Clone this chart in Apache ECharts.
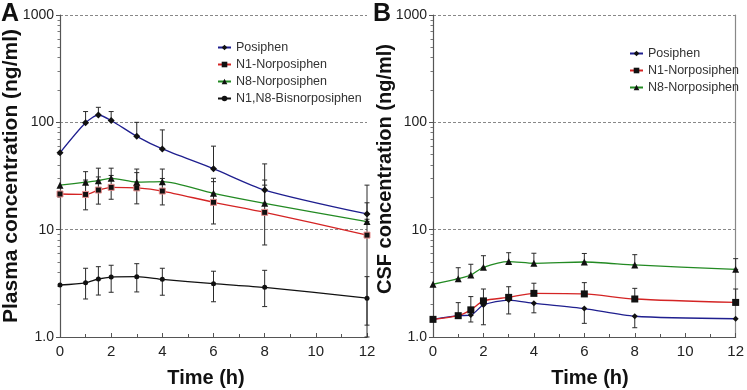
<!DOCTYPE html>
<html>
<head>
<meta charset="utf-8">
<script src="https://cdn.jsdelivr.net/npm/echarts@6/dist/echarts.min.js"></script>
<style>
  html, body { margin: 0; padding: 0; background: #fff; }
  #chart { width: 747px; height: 390px; }
</style>
</head>
<body>
<div id="chart"></div>
<script>
// sampling times (h)
const hours = [0, 1, 1.5, 2, 3, 4, 6, 8, 12];

// Panel A - plasma (ng/ml)
const plasmaPosiphen = [52, 99, 117, 104, 74, 56.5, 37, 23.4, 14];
const plasmaPosiphenHi = [null, 126, 138, 126, 100, 85, 60, 41, 26];
const plasmaN1 = [21.5, 21.3, 23.4, 24.8, 24.5, 22.9, 18, 14.5, 8.9];
const plasmaN1Lo = [null, 15.3, 17.3, 19.2, 17.4, 17, 11.3, 7.2, 1.0];
const plasmaN1Hi = [null, 29, 31, 32, 34, 30, 28, 29, 12.5];
const plasmaN8 = [26, 27.7, 28.6, 30.1, 27.7, 28, 21.8, 17.6, 11.9];
const plasmaN8Hi = [null, 34.7, 37.4, 37.4, 36.7, 36.7, 30.1, 26, 17.8];
const plasmaBis = [3.05, 3.2, 3.47, 3.62, 3.65, 3.45, 3.14, 2.9, 2.3];
const plasmaBisLo = [null, 2.26, 2.46, 2.61, 2.63, 2.45, 2.13, 1.92, 1.29];
const plasmaBisHi = [null, 4.37, 4.52, 4.66, 4.82, 4.37, 4.1, 4.18, 3.65];

// Panel B - CSF (ng/ml)
const csfPosiphen = [1.46, 1.58, 1.6, 1.99, 2.21, 2.06, 1.84, 1.56, 1.48];
const csfPosiphenLo = [null, null, 1.38, 1.3, 1.64, 1.68, 1.34, 1.22, null];
const csfN1 = [1.46, 1.58, 1.79, 2.17, 2.34, 2.55, 2.52, 2.26, 2.1];
const csfN1Hi = [null, 2.09, 2.38, 2.8, 2.94, 3.17, 3.21, 2.84, 2.8];
const csfN8 = [3.1, 3.49, 3.78, 4.46, 5.04, 4.86, 5.0, 4.69, 4.27];
const csfN8Hi = [null, 4.42, 4.76, 5.72, 6.1, 6.03, 6.0, 5.85, 5.37];

const yTickLabels = ['1.0', '10', '100', '1000'];
const majorTicks = [1, 10, 100, 1000];
const minorTicks = [2, 3, 4, 5, 6, 7, 8, 9, 20, 30, 40, 50, 60, 70, 80, 90, 200, 300, 400, 500, 600, 700, 800, 900];

const BLUE = '#1f1f8f';
const RED = '#d42424';
const GREEN = '#238a23';
const FONT = '"Liberation Sans", Arial, sans-serif';

const pairs = (vals) => hours.map((h, i) => [h, vals[i]]);
const errPairs = (vals, lo, hi) =>
  hours.map((h, i) => [h, lo && lo[i] != null ? lo[i] : vals[i], hi && hi[i] != null ? hi[i] : vals[i]]);

const chart = echarts.init(document.getElementById('chart'), null, { renderer: 'canvas' });

function errorSeries(gridIdx, data) {
  return {
    type: 'custom',
    xAxisIndex: gridIdx,
    yAxisIndex: gridIdx * 3,
    silent: true,
    z: 1,
    data: data,
    renderItem: function (params, api) {
      const x = api.value(0);
      const lo = api.value(1);
      const hi = api.value(2);
      if (lo === hi) return;
      const top = api.coord([x, hi]);
      const bot = api.coord([x, lo]);
      const w = 2.5;
      const st = { stroke: '#2a2a2a', lineWidth: 1 };
      return {
        type: 'group',
        children: [
          { type: 'line', shape: { x1: top[0], y1: top[1], x2: bot[0], y2: bot[1] }, style: st },
          { type: 'line', shape: { x1: top[0] - w, y1: top[1], x2: top[0] + w, y2: top[1] }, style: st },
          { type: 'line', shape: { x1: bot[0] - w, y1: bot[1], x2: bot[0] + w, y2: bot[1] }, style: st }
        ]
      };
    }
  };
}

function lineSeries(gridIdx, name, vals, color, symbol, size, border) {
  return {
    name: name,
    type: 'line',
    xAxisIndex: gridIdx,
    yAxisIndex: gridIdx * 3,
    data: pairs(vals),
    smooth: 0.25,
    symbol: symbol,
    symbolSize: size,
    z: 3,
    lineStyle: { color: color, width: 1.3 },
    itemStyle: border ? { color: '#111', borderColor: border, borderWidth: 1 } : { color: '#111' }
  };
}

function xAxisCfg(gridIdx) {
  return {
    gridIndex: gridIdx,
    type: 'value',
    min: 0,
    max: 12,
    interval: 2,
    axisLine: { onZero: false, lineStyle: { color: '#555', width: 1.2 } },
    axisTick: { inside: true, length: 4, lineStyle: { color: '#555' } },
    minorTick: { show: true, splitNumber: 2, length: 3, lineStyle: { color: '#555' } },
    axisLabel: { color: '#222', fontSize: 15, fontFamily: FONT, margin: 7 },
    splitLine: { show: false }
  };
}

function yAxesCfg(gridIdx, rightFrame) {
  const base = { gridIndex: gridIdx, type: 'log', logBase: 10, min: 1, max: 1000 };
  return [
    Object.assign({}, base, {
      position: 'left',
      axisLine: { show: true, lineStyle: { color: '#555', width: 1.2 } },
      axisTick: { show: true, length: 4, customValues: majorTicks, lineStyle: { color: '#555' } },
      axisLabel: {
        color: '#222', fontSize: 14, fontFamily: FONT, margin: 6,
        customValues: majorTicks,
        formatter: (v) => yTickLabels[majorTicks.indexOf(Math.round(v))]
      },
      splitLine: { show: true, lineStyle: { color: '#888', type: [3, 2], width: 1 } }
    }),
    Object.assign({}, base, {
      position: 'left',
      axisLine: { show: false },
      axisTick: { show: true, length: 2.5, customValues: minorTicks, lineStyle: { color: '#777' } },
      axisLabel: { show: false },
      splitLine: { show: false }
    }),
    Object.assign({}, base, {
      position: 'right',
      show: rightFrame,
      axisLine: { show: true, lineStyle: { color: '#888', width: 1.2 } },
      axisTick: { show: false },
      axisLabel: { show: false },
      splitLine: { show: false }
    })
  ];
}

const legendText = { color: '#333', fontSize: 12.5, fontFamily: FONT, lineHeight: 13 };
const legendItem = (name) => ({ name: name, itemStyle: { borderWidth: 0 } });

const option = {
  animation: false,
  backgroundColor: '#fff',
  grid: [
    { left: 60, top: 15, width: 307, height: 322 },
    { left: 433, top: 15, width: 305, height: 322 }
  ],
  xAxis: [xAxisCfg(0), xAxisCfg(1)],
  yAxis: [...yAxesCfg(0, false), ...yAxesCfg(1, true)],
  legend: [
    {
      data: ['Posiphen', 'N1-Norposiphen', 'N8-Norposiphen', 'N1,N8-Bisnorposiphen'].map(legendItem),
      orient: 'vertical', left: 217, top: 41, itemWidth: 13, itemHeight: 7, itemGap: 4,
      textStyle: legendText, padding: 0
    },
    {
      data: ['Posiphen', 'N1-Norposiphen', 'N8-Norposiphen'].map(legendItem),
      orient: 'vertical', left: 629, top: 47, itemWidth: 13, itemHeight: 7, itemGap: 4,
      textStyle: legendText, padding: 0
    }
  ],
  graphic: [
    { type: 'text', left: 1, top: 2, style: { text: 'A', font: 'bold 25px ' + FONT, fill: '#111' } },
    { type: 'text', left: 373, top: 2, style: { text: 'B', font: 'bold 25px ' + FONT, fill: '#111' } },
    {
      type: 'text', x: 11, y: 176, rotation: Math.PI / 2,
      style: { text: 'Plasma concentration (ng/ml)', font: 'bold 21px ' + FONT, fill: '#111', align: 'center', verticalAlign: 'middle' }
    },
    {
      type: 'text', x: 385, y: 169, rotation: Math.PI / 2,
      style: { text: 'CSF concentration (ng/ml)', font: 'bold 20px ' + FONT, fill: '#111', align: 'center', verticalAlign: 'middle' }
    },
    { type: 'text', x: 206, y: 378, style: { text: 'Time (h)', font: 'bold 20px ' + FONT, fill: '#111', align: 'center', verticalAlign: 'middle' } },
    { type: 'text', x: 590, y: 378, style: { text: 'Time (h)', font: 'bold 20px ' + FONT, fill: '#111', align: 'center', verticalAlign: 'middle' } }
  ],
  series: [
    errorSeries(0, errPairs(plasmaPosiphen, null, plasmaPosiphenHi)),
    errorSeries(0, errPairs(plasmaN1, plasmaN1Lo, plasmaN1Hi)),
    errorSeries(0, errPairs(plasmaN8, null, plasmaN8Hi)),
    errorSeries(0, errPairs(plasmaBis, plasmaBisLo, plasmaBisHi)),
    lineSeries(0, 'Posiphen', plasmaPosiphen, BLUE, 'diamond', 7),
    lineSeries(0, 'N1-Norposiphen', plasmaN1, RED, 'rect', 6, '#e89090'),
    lineSeries(0, 'N8-Norposiphen', plasmaN8, GREEN, 'triangle', 7),
    lineSeries(0, 'N1,N8-Bisnorposiphen', plasmaBis, '#111', 'circle', 5),

    errorSeries(1, errPairs(csfPosiphen, csfPosiphenLo, null)),
    errorSeries(1, errPairs(csfN1, null, csfN1Hi)),
    errorSeries(1, errPairs(csfN8, null, csfN8Hi)),
    lineSeries(1, 'Posiphen', csfPosiphen, BLUE, 'diamond', 6),
    lineSeries(1, 'N1-Norposiphen', csfN1, RED, 'rect', 7),
    lineSeries(1, 'N8-Norposiphen', csfN8, GREEN, 'triangle', 7)
  ]
};

chart.setOption(option);
</script>
</body>
</html>
